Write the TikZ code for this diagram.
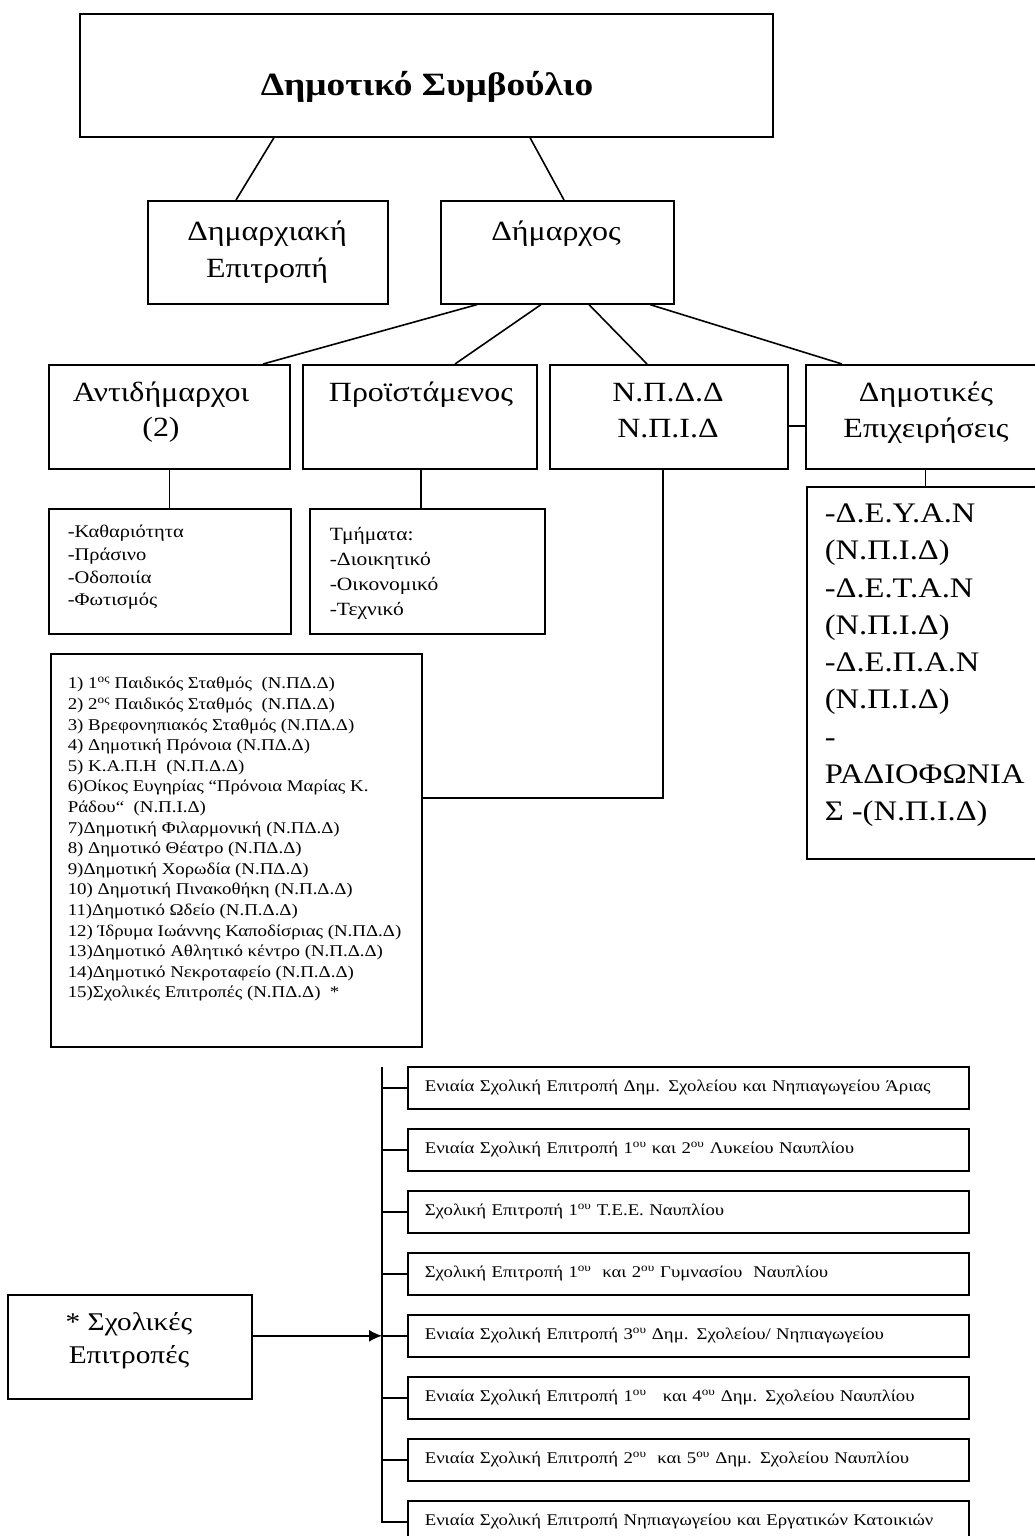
\documentclass[tikz,border=0pt]{standalone}
\usepackage{fontspec}
\setmainfont{Liberation Serif}[FakeStretch=1.15]
\usetikzlibrary{arrows.meta}
\begin{document}
\begin{tikzpicture}[x=1pt,y=-1pt,line width=1.6pt,
    box/.style={draw,anchor=north west,inner sep=0pt},
    head/.style={font=\fontsize{27.8}{36}\selectfont,align=center,anchor=north,inner sep=0pt},
    small/.style={font=\fontsize{17.8}{22.7}\selectfont,align=left,anchor=north west,inner sep=0pt},
    tiny/.style={font=\fontsize{16.4}{20.6}\selectfont,align=left,anchor=north west,inner sep=0pt},
    school/.style={draw,anchor=north west,minimum height=42,text width=527,inner xsep=17,inner ysep=0pt,
      align=left,font=\fontsize{16.3}{20}\selectfont}]
  \useasboundingbox (0,0) rectangle (1035,1536);
  \clip (0,0) rectangle (1035,1536);
  \node[box,minimum width=693,minimum height=123] (council) at (79,13) {};
  \node[box,minimum width=240,minimum height=103] (committee) at (147,200) {};
  \node[box,minimum width=233,minimum height=103] (mayor) at (440,200) {};
  \node[box,minimum width=241,minimum height=104] (deputies) at (48,364) {};
  \node[box,minimum width=234,minimum height=104] (director) at (302,364) {};
  \node[box,minimum width=238,minimum height=104] (legal) at (549,364) {};
  \node[box,minimum width=245,minimum height=104] (firms) at (805,364) {};
  \node[box,minimum width=242,minimum height=125] (services) at (48,508) {};
  \node[box,minimum width=235,minimum height=125] (depts) at (309,508) {};
  \node[box,minimum width=371,minimum height=393] (list) at (50,653) {};
  \node[box,minimum width=244,minimum height=372] (firmlist) at (806,486) {};
  \node[box,minimum width=244,minimum height=104] (schools) at (7,1294) {};
  \node[font=\fontsize{32.5}{40}\selectfont\bfseries,anchor=north,inner sep=0pt] (council-t) at (427,71) {Δημοτικό Συμβούλιο};
  \node[head,font=\fontsize{27.8}{37}\selectfont] (committee-t) at (267,220.5) {Δημαρχιακή\\Επιτροπή};
  \node[head] (mayor-t) at (556,220.5) {Δήμαρχος};
  \node[head,font=\fontsize{27.8}{35}\selectfont] (deputies-t) at (161,381.5) {Αντιδήμαρχοι\\(2)};
  \node[head] (director-t) at (421,381.5) {Προϊστάμενος};
  \node[head] (legal-t) at (668,382.5) {Ν.Π.Δ.Δ\\Ν.Π.Ι.Δ};
  \node[head] (firms-t) at (926,381.5) {Δημοτικές\\Επιχειρήσεις};
  \node[small] (services-t) at (67,524.5) {-Καθαριότητα\\-Πράσινο\\-Οδοποιία\\-Φωτισμός};
  \node[small,font=\fontsize{18.7}{25}\selectfont] (depts-t) at (329,527) {Τμήματα:\\-Διοικητικό\\-Οικονομικό\\-Τεχνικό};
  \node[tiny] (list-t) at (67,676.5) {1) 1\textsuperscript{ος} Παιδικός Σταθμός~ (Ν.ΠΔ.Δ)\\
    2) 2\textsuperscript{ος} Παιδικός Σταθμός~ (Ν.ΠΔ.Δ)\\
    3) Βρεφονηπιακός Σταθμός (Ν.ΠΔ.Δ)\\
    4) Δημοτική Πρόνοια (Ν.ΠΔ.Δ)\\
    5) Κ.Α.Π.Η~ (Ν.Π.Δ.Δ)\\
    6)Οίκος Ευγηρίας “Πρόνοια Μαρίας Κ.\\
    Ράδου“~ (Ν.Π.Ι.Δ)\\
    7)Δημοτική Φιλαρμονική (Ν.ΠΔ.Δ)\\
    8) Δημοτικό Θέατρο (Ν.ΠΔ.Δ)\\
    9)Δημοτική Χορωδία (Ν.ΠΔ.Δ)\\
    10) Δημοτική Πινακοθήκη (Ν.Π.Δ.Δ)\\
    11)Δημοτικό Ωδείο (Ν.Π.Δ.Δ)\\
    12) Ίδρυμα Ιωάννης Καποδίσριας (Ν.ΠΔ.Δ)\\
    13)Δημοτικό Αθλητικό κέντρο (Ν.Π.Δ.Δ)\\
    14)Δημοτικό Νεκροταφείο (Ν.Π.Δ.Δ)\\
    15)Σχολικές Επιτροπές (Ν.ΠΔ.Δ)~ *};
  \node[small,font=\fontsize{28.3}{37.3}\selectfont] (firmlist-t) at (824,503) {-Δ.Ε.Υ.Α.Ν\\(Ν.Π.Ι.Δ)\\-Δ.Ε.Τ.Α.Ν\\(Ν.Π.Ι.Δ)\\-Δ.Ε.Π.Α.Ν\\(Ν.Π.Ι.Δ)\\-\\ΡΑΔΙΟΦΩΝΙΑ\\Σ -(Ν.Π.Ι.Δ)};
  \node[head,font=\fontsize{25.5}{33}\selectfont] (schools-t) at (129,1312) {* Σχολικές\\Επιτροπές};
  \node[school] (s1) at (407,1066) {Ενιαία Σχολική Επιτροπή Δημ. Σχολείου και Νηπιαγωγείου Άριας};
  \node[school] (s2) at (407,1128) {Ενιαία Σχολική Επιτροπή 1\textsuperscript{ου} και 2\textsuperscript{ου} Λυκείου Ναυπλίου};
  \node[school] (s3) at (407,1190) {Σχολική Επιτροπή 1\textsuperscript{ου} Τ.Ε.Ε. Ναυπλίου};
  \node[school] (s4) at (407,1252) {Σχολική Επιτροπή 1\textsuperscript{ου}~ και 2\textsuperscript{ου} Γυμνασίου~ Ναυπλίου};
  \node[school] (s5) at (407,1314) {Ενιαία Σχολική Επιτροπή 3\textsuperscript{ου} Δημ. Σχολείου/ Νηπιαγωγείου};
  \node[school] (s6) at (407,1376) {Ενιαία Σχολική Επιτροπή 1\textsuperscript{ου}~~ και 4\textsuperscript{ου} Δημ. Σχολείου Ναυπλίου};
  \node[school] (s7) at (407,1438) {Ενιαία Σχολική Επιτροπή 2\textsuperscript{ου}~ και 5\textsuperscript{ου} Δημ. Σχολείου Ναυπλίου};
  \node[school] (s8) at (407,1500) {Ενιαία Σχολική Επιτροπή Νηπιαγωγείου και Εργατικών Κατοικιών};
  \coordinate (trunk) at (382,1067);
  \begin{scope}[-]
    \draw ([xshift=195]council.south west) -- ([xshift=89]committee.north west);
    \draw ([xshift=451]council.south west) -- ([xshift=124]mayor.north west);
    \draw ([xshift=37]mayor.south west) -- ([xshift=215]deputies.north west);
    \draw ([xshift=101]mayor.south west) -- ([xshift=153]director.north west);
    \draw ([xshift=149]mayor.south west) -- ([xshift=98]legal.north west);
    \draw ([xshift=210]mayor.south west) -- ([xshift=37]firms.north west);
    \draw ([yshift=-9]legal.east) -- ([yshift=-9]firms.west);
    \draw (deputies.south) -- (deputies.south |- services.north);
    \draw ([xshift=1]director.south) -- ([xshift=1]director.south |- depts.north);
    \draw ([xshift=-6]legal.south) |- ([yshift=52.5]list.east);
    \draw ([xshift=-3]firms.south) -- ([xshift=-3]firms.south |- firmlist.north);
    \draw (trunk) |- (s8.west);
    \draw (s1.west) -- (s1.west -| trunk);
    \draw (s2.west) -- (s2.west -| trunk);
    \draw (s3.west) -- (s3.west -| trunk);
    \draw (s4.west) -- (s4.west -| trunk);
    \draw (s5.west) -- (s5.west -| trunk);
    \draw (s6.west) -- (s6.west -| trunk);
    \draw (s7.west) -- (s7.west -| trunk);
  \end{scope}
  \draw[-{Latex[length=13pt,width=12pt]}] ([yshift=11]schools.east) -- ([yshift=11]schools.east -| trunk);
\end{tikzpicture}
\end{document}
